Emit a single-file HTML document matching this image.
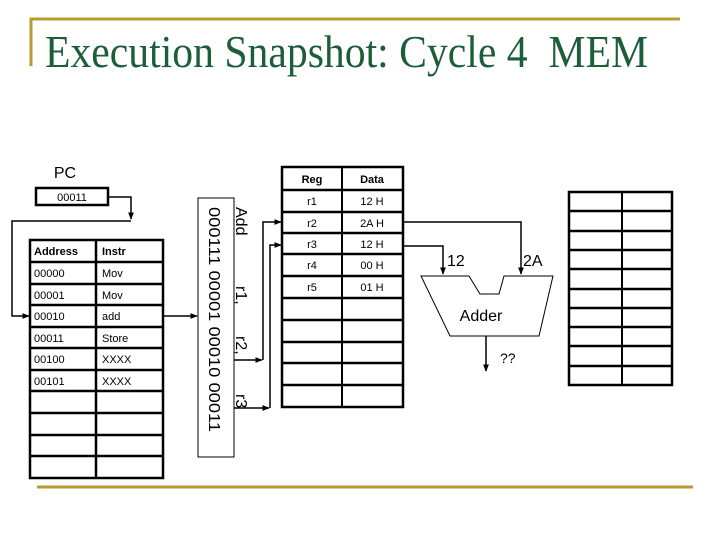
<!DOCTYPE html>
<html><head><meta charset="utf-8"><style>
html,body{margin:0;padding:0;background:#fff;}
svg{display:block;}
text{font-family:"Liberation Sans",sans-serif;}
</style></head><body>
<svg width="720" height="540" viewBox="0 0 720 540" xmlns="http://www.w3.org/2000/svg">
<defs>
<marker id="a" viewBox="0 0 10 10" refX="9" refY="5" markerWidth="5" markerHeight="5" orient="auto"><path d="M0,1 L10,5 L0,9 z" fill="#000"/></marker>
</defs>
<!-- frame -->
<path d="M31,66 V19 H680" fill="none" stroke="#b89a30" stroke-width="3"/>
<line x1="37" y1="487" x2="693" y2="487" stroke="#b89a30" stroke-width="3"/>
<text x="45" y="67" font-size="46" fill="#1d5e3a" style="font-family:'Liberation Serif',serif" textLength="603" lengthAdjust="spacingAndGlyphs">Execution Snapshot: Cycle 4&#160; MEM</text>

<!-- PC -->
<text x="65" y="178" font-size="16" text-anchor="middle">PC</text>
<rect x="36" y="188" width="72" height="17" fill="#fff" stroke="#000" stroke-width="2.5"/>
<text x="72" y="201" font-size="11" text-anchor="middle">00011</text>
<polyline points="108,197 131,197 131,219" fill="none" stroke="#000" stroke-width="1.5" marker-end="url(#a)"/>
<polyline points="131,221 12,221 12,316 29,316" fill="none" stroke="#000" stroke-width="1.5" marker-end="url(#a)"/>

<!-- instruction table -->
<g stroke="#000" stroke-width="2.5" fill="none">
<rect x="30" y="240" width="133" height="238"/>
<line x1="96" y1="240" x2="96" y2="478"/>
<line x1="30" y1="262" x2="163" y2="262"/><line x1="30" y1="284" x2="163" y2="284"/>
<line x1="30" y1="305" x2="163" y2="305"/><line x1="30" y1="327" x2="163" y2="327"/>
<line x1="30" y1="348" x2="163" y2="348"/><line x1="30" y1="370" x2="163" y2="370"/>
<line x1="30" y1="391" x2="163" y2="391"/><line x1="30" y1="413" x2="163" y2="413"/>
<line x1="30" y1="435" x2="163" y2="435"/><line x1="30" y1="456" x2="163" y2="456"/>
</g>
<g font-size="11">
<text x="34" y="255" font-weight="bold">Address</text><text x="102" y="255" font-weight="bold">Instr</text>
<text x="34" y="277">00000</text><text x="102" y="277">Mov</text>
<text x="34" y="299">00001</text><text x="102" y="299">Mov</text>
<text x="34" y="320">00010</text><text x="102" y="320">add</text>
<text x="34" y="342">00011</text><text x="102" y="342">Store</text>
<text x="34" y="363">00100</text><text x="102" y="363">XXXX</text>
<text x="34" y="385">00101</text><text x="102" y="385">XXXX</text>
</g>
<line x1="163" y1="316" x2="197" y2="316" stroke="#000" stroke-width="1.5" marker-end="url(#a)"/>

<!-- instruction vertical box -->
<rect x="198" y="198" width="36" height="259" fill="#fff" stroke="#000" stroke-width="1"/>
<text transform="translate(209,207) rotate(90)" font-size="16" textLength="225" lengthAdjust="spacingAndGlyphs">000111 00001 00010 00011</text>
<g font-size="16">
<text transform="translate(236,207) rotate(90)">Add</text>
<text transform="translate(236,286) rotate(90)">r1,</text>
<text transform="translate(236,336) rotate(90)">r2,</text>
<text transform="translate(236,394) rotate(90)">r3</text>
</g>
<polyline points="234,360 262,360" fill="none" stroke="#000" stroke-width="1.5" marker-end="url(#a)"/>
<polyline points="263,360 263,222 281,222" fill="none" stroke="#000" stroke-width="1.5" marker-end="url(#a)"/>
<polyline points="234,408 269,408" fill="none" stroke="#000" stroke-width="1.5" marker-end="url(#a)"/>
<polyline points="270,408 270,245 281,245" fill="none" stroke="#000" stroke-width="1.5" marker-end="url(#a)"/>

<!-- register table -->
<g stroke="#000" stroke-width="2.5" fill="none">
<rect x="282" y="167" width="121" height="240"/>
<line x1="342" y1="167" x2="342" y2="407" stroke-width="2"/>
<line x1="282" y1="190" x2="403" y2="190"/><line x1="282" y1="212" x2="403" y2="212"/>
<line x1="282" y1="233" x2="403" y2="233"/><line x1="282" y1="254" x2="403" y2="254"/>
<line x1="282" y1="276" x2="403" y2="276"/><line x1="282" y1="298" x2="403" y2="298"/>
<line x1="282" y1="320" x2="403" y2="320"/><line x1="282" y1="342" x2="403" y2="342"/>
<line x1="282" y1="363" x2="403" y2="363"/><line x1="282" y1="385" x2="403" y2="385"/>
</g>
<g font-size="11" text-anchor="middle">
<text x="312" y="183" font-weight="bold">Reg</text><text x="372" y="183" font-weight="bold">Data</text>
<text x="312" y="205">r1</text><text x="372" y="205">12 H</text>
<text x="312" y="227">r2</text><text x="372" y="227">2A H</text>
<text x="312" y="248">r3</text><text x="372" y="248">12 H</text>
<text x="312" y="269">r4</text><text x="372" y="269">00 H</text>
<text x="312" y="291">r5</text><text x="372" y="291">01 H</text>
</g>
<polyline points="403,222 521,222 521,274" fill="none" stroke="#000" stroke-width="1.5" marker-end="url(#a)"/>
<polyline points="403,246 443,246 443,274" fill="none" stroke="#000" stroke-width="1.5" marker-end="url(#a)"/>
<text x="447" y="266" font-size="16">12</text>
<text x="523" y="266" font-size="16">2A</text>

<!-- adder -->
<polygon points="421,276 469,276 480,294 499,294 504,276 553,276 539,336 450,336" fill="#fff" stroke="#000" stroke-width="1"/>
<text x="481" y="321" font-size="16" text-anchor="middle">Adder</text>
<line x1="486" y1="336" x2="486" y2="371" stroke="#000" stroke-width="1.5" marker-end="url(#a)"/>
<text x="500" y="363" font-size="14">??</text>

<!-- right table -->
<g stroke="#000" stroke-width="2.5" fill="none">
<rect x="569" y="192" width="103" height="193"/>
<line x1="622" y1="192" x2="622" y2="385" stroke-width="2"/>
<line x1="569" y1="211" x2="672" y2="211"/><line x1="569" y1="231" x2="672" y2="231"/>
<line x1="569" y1="250" x2="672" y2="250"/><line x1="569" y1="269" x2="672" y2="269"/>
<line x1="569" y1="289" x2="672" y2="289"/><line x1="569" y1="308" x2="672" y2="308"/>
<line x1="569" y1="327" x2="672" y2="327"/><line x1="569" y1="346" x2="672" y2="346"/>
<line x1="569" y1="366" x2="672" y2="366"/>
</g>
</svg>
</body></html>
